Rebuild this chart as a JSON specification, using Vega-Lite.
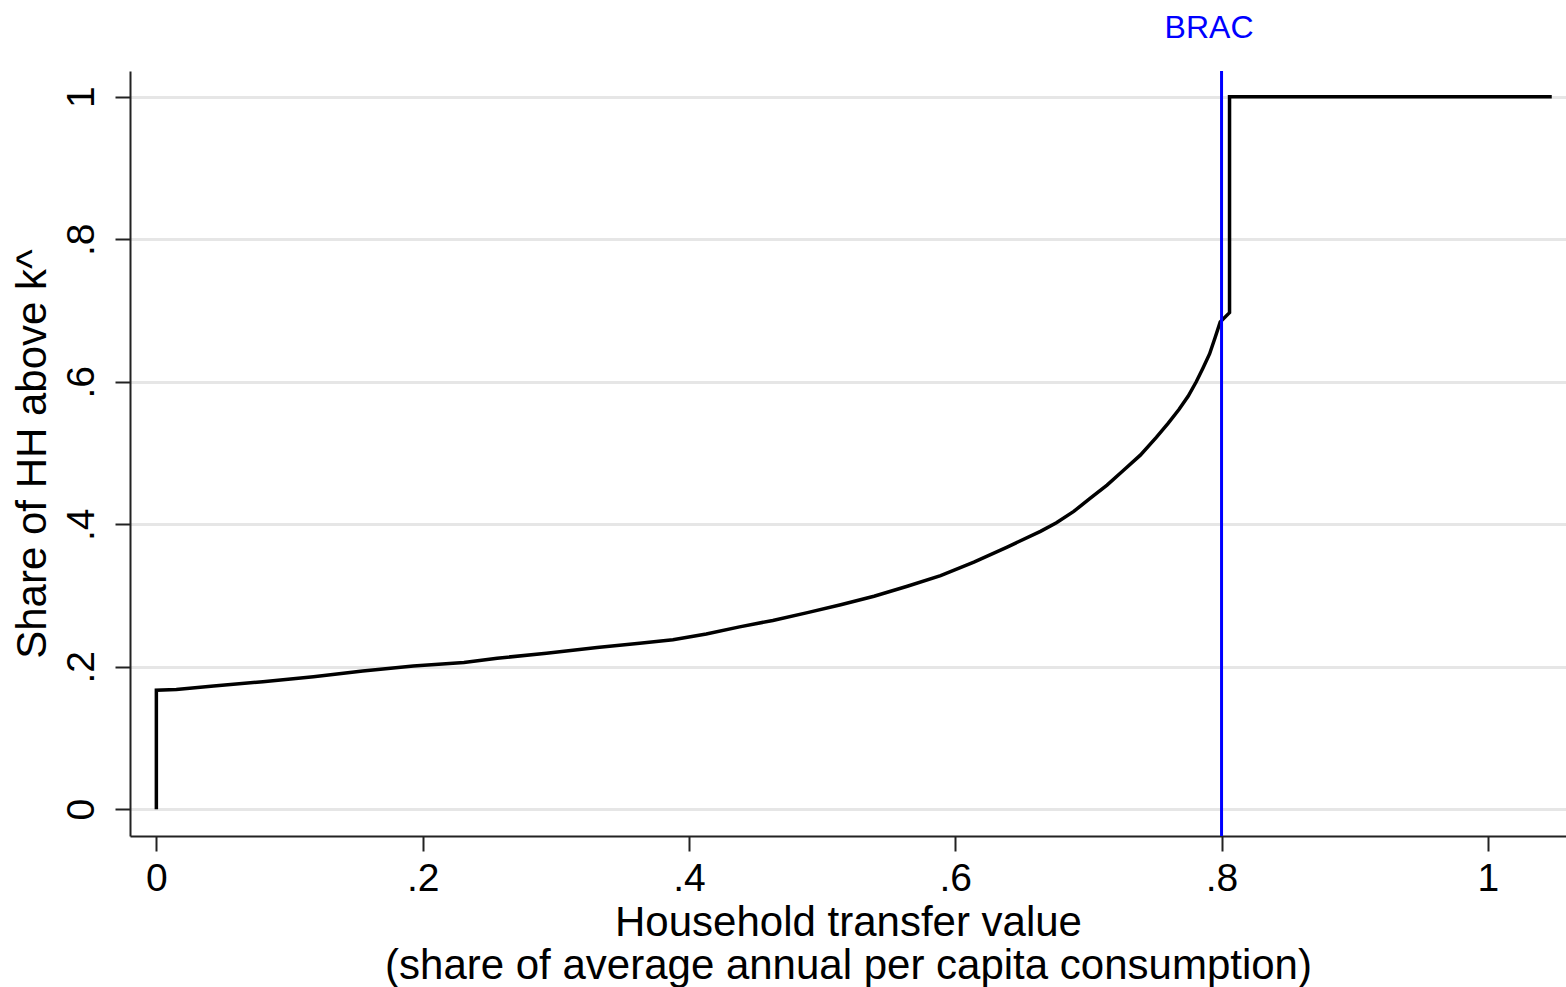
{
  "$schema": "https://vega.github.io/schema/vega-lite/v6.json",
  "autosize": {"type": "none"},
  "padding": {"left": 130, "top": 71, "right": 0, "bottom": 151},
  "width": 1436,
  "height": 765,
  "background": "white",
  "config": {
    "font": "Liberation Sans",
    "view": {"stroke": null},
    "axis": {
      "labelFont": "Liberation Sans",
      "titleFont": "Liberation Sans",
      "labelColor": "black",
      "titleColor": "black",
      "titleFontWeight": "normal",
      "domainColor": "#222222",
      "domainWidth": 2,
      "tickColor": "#222222",
      "tickWidth": 2,
      "tickSize": 15
    }
  },
  "datasets": {
    "curve": [
      {"point": 1, "transfer": 0.0, "share": 0.0},
      {"point": 2, "transfer": 0.0, "share": 0.167},
      {"point": 3, "transfer": 0.015, "share": 0.168},
      {"point": 4, "transfer": 0.043, "share": 0.173},
      {"point": 5, "transfer": 0.080, "share": 0.179},
      {"point": 6, "transfer": 0.118, "share": 0.186},
      {"point": 7, "transfer": 0.155, "share": 0.194},
      {"point": 8, "transfer": 0.193, "share": 0.201},
      {"point": 9, "transfer": 0.231, "share": 0.206},
      {"point": 10, "transfer": 0.256, "share": 0.212},
      {"point": 11, "transfer": 0.293, "share": 0.219},
      {"point": 12, "transfer": 0.331, "share": 0.227},
      {"point": 13, "transfer": 0.363, "share": 0.233},
      {"point": 14, "transfer": 0.388, "share": 0.238},
      {"point": 15, "transfer": 0.413, "share": 0.246},
      {"point": 16, "transfer": 0.438, "share": 0.256},
      {"point": 17, "transfer": 0.463, "share": 0.265},
      {"point": 18, "transfer": 0.489, "share": 0.276},
      {"point": 19, "transfer": 0.514, "share": 0.287},
      {"point": 20, "transfer": 0.539, "share": 0.299},
      {"point": 21, "transfer": 0.564, "share": 0.313},
      {"point": 22, "transfer": 0.589, "share": 0.328},
      {"point": 23, "transfer": 0.614, "share": 0.347},
      {"point": 24, "transfer": 0.639, "share": 0.368},
      {"point": 25, "transfer": 0.664, "share": 0.390},
      {"point": 26, "transfer": 0.676, "share": 0.402},
      {"point": 27, "transfer": 0.689, "share": 0.418},
      {"point": 28, "transfer": 0.701, "share": 0.436},
      {"point": 29, "transfer": 0.714, "share": 0.455},
      {"point": 30, "transfer": 0.726, "share": 0.475},
      {"point": 31, "transfer": 0.739, "share": 0.497},
      {"point": 32, "transfer": 0.751, "share": 0.522},
      {"point": 33, "transfer": 0.760, "share": 0.542},
      {"point": 34, "transfer": 0.768, "share": 0.561},
      {"point": 35, "transfer": 0.775, "share": 0.580},
      {"point": 36, "transfer": 0.781, "share": 0.600},
      {"point": 37, "transfer": 0.786, "share": 0.619},
      {"point": 38, "transfer": 0.791, "share": 0.639},
      {"point": 39, "transfer": 0.795, "share": 0.661},
      {"point": 40, "transfer": 0.799, "share": 0.684},
      {"point": 41, "transfer": 0.806, "share": 0.697},
      {"point": 42, "transfer": 0.806, "share": 1.0},
      {"point": 43, "transfer": 1.048, "share": 1.0}
    ],
    "programs": [
      {"program": "BRAC", "transfer": 0.8}
    ]
  },
  "layer": [
    {
      "data": {"name": "curve"},
      "mark": {"type": "line", "color": "black", "strokeWidth": 3.5, "interpolate": "linear"},
      "encoding": {
        "x": {
          "field": "transfer",
          "type": "quantitative",
          "scale": {"domain": [-0.0198, 1.0587], "nice": false, "zero": false},
          "axis": {
            "orient": "bottom",
            "values": [0, 0.2, 0.4, 0.6, 0.8, 1],
            "labelExpr": "datum.value == 0 ? '0' : datum.value == 1 ? '1' : replace(format(datum.value, '.1f'), '0.', '.')",
            "labelFontSize": 39,
            "labelPadding": 8,
            "labelFlush": false,
            "grid": false,
            "title": ["Household transfer value", "(share of average annual per capita consumption)"],
            "titleFontSize": 42,
            "titleLineHeight": 43,
            "titlePadding": 4
          }
        },
        "y": {
          "field": "share",
          "type": "quantitative",
          "scale": {"domain": [-0.0375, 1.0361], "nice": false, "zero": false},
          "axis": {
            "values": [0, 0.2, 0.4, 0.6, 0.8, 1],
            "labelExpr": "datum.value == 0 ? '0' : datum.value == 1 ? '1' : replace(format(datum.value, '.1f'), '0.', '.')",
            "labelFontSize": 39,
            "labelAngle": 270,
            "labelAlign": "center",
            "labelBaseline": "alphabetic",
            "labelPadding": 22,
            "labelFlush": false,
            "grid": true,
            "gridColor": "#e6e6e6",
            "gridWidth": 3,
            "title": "Share of HH above k^",
            "titleFontSize": 42,
            "titlePadding": 8
          }
        },
        "order": {"field": "point", "type": "quantitative"}
      }
    },
    {
      "data": {"name": "programs"},
      "mark": {"type": "rule", "color": "#0000ff", "strokeWidth": 3},
      "encoding": {
        "x": {
          "field": "transfer",
          "type": "quantitative",
          "axis": {
            "orient": "top",
            "values": [0.8],
            "labelExpr": "'BRAC'",
            "labelColor": "#0000ff",
            "labelFontSize": 32,
            "labelBaseline": "alphabetic",
            "labelPadding": 34,
            "labelOffset": -13,
            "ticks": false,
            "domain": false,
            "grid": false,
            "title": null
          }
        }
      }
    }
  ],
  "resolve": {"axis": {"x": "independent"}}
}
